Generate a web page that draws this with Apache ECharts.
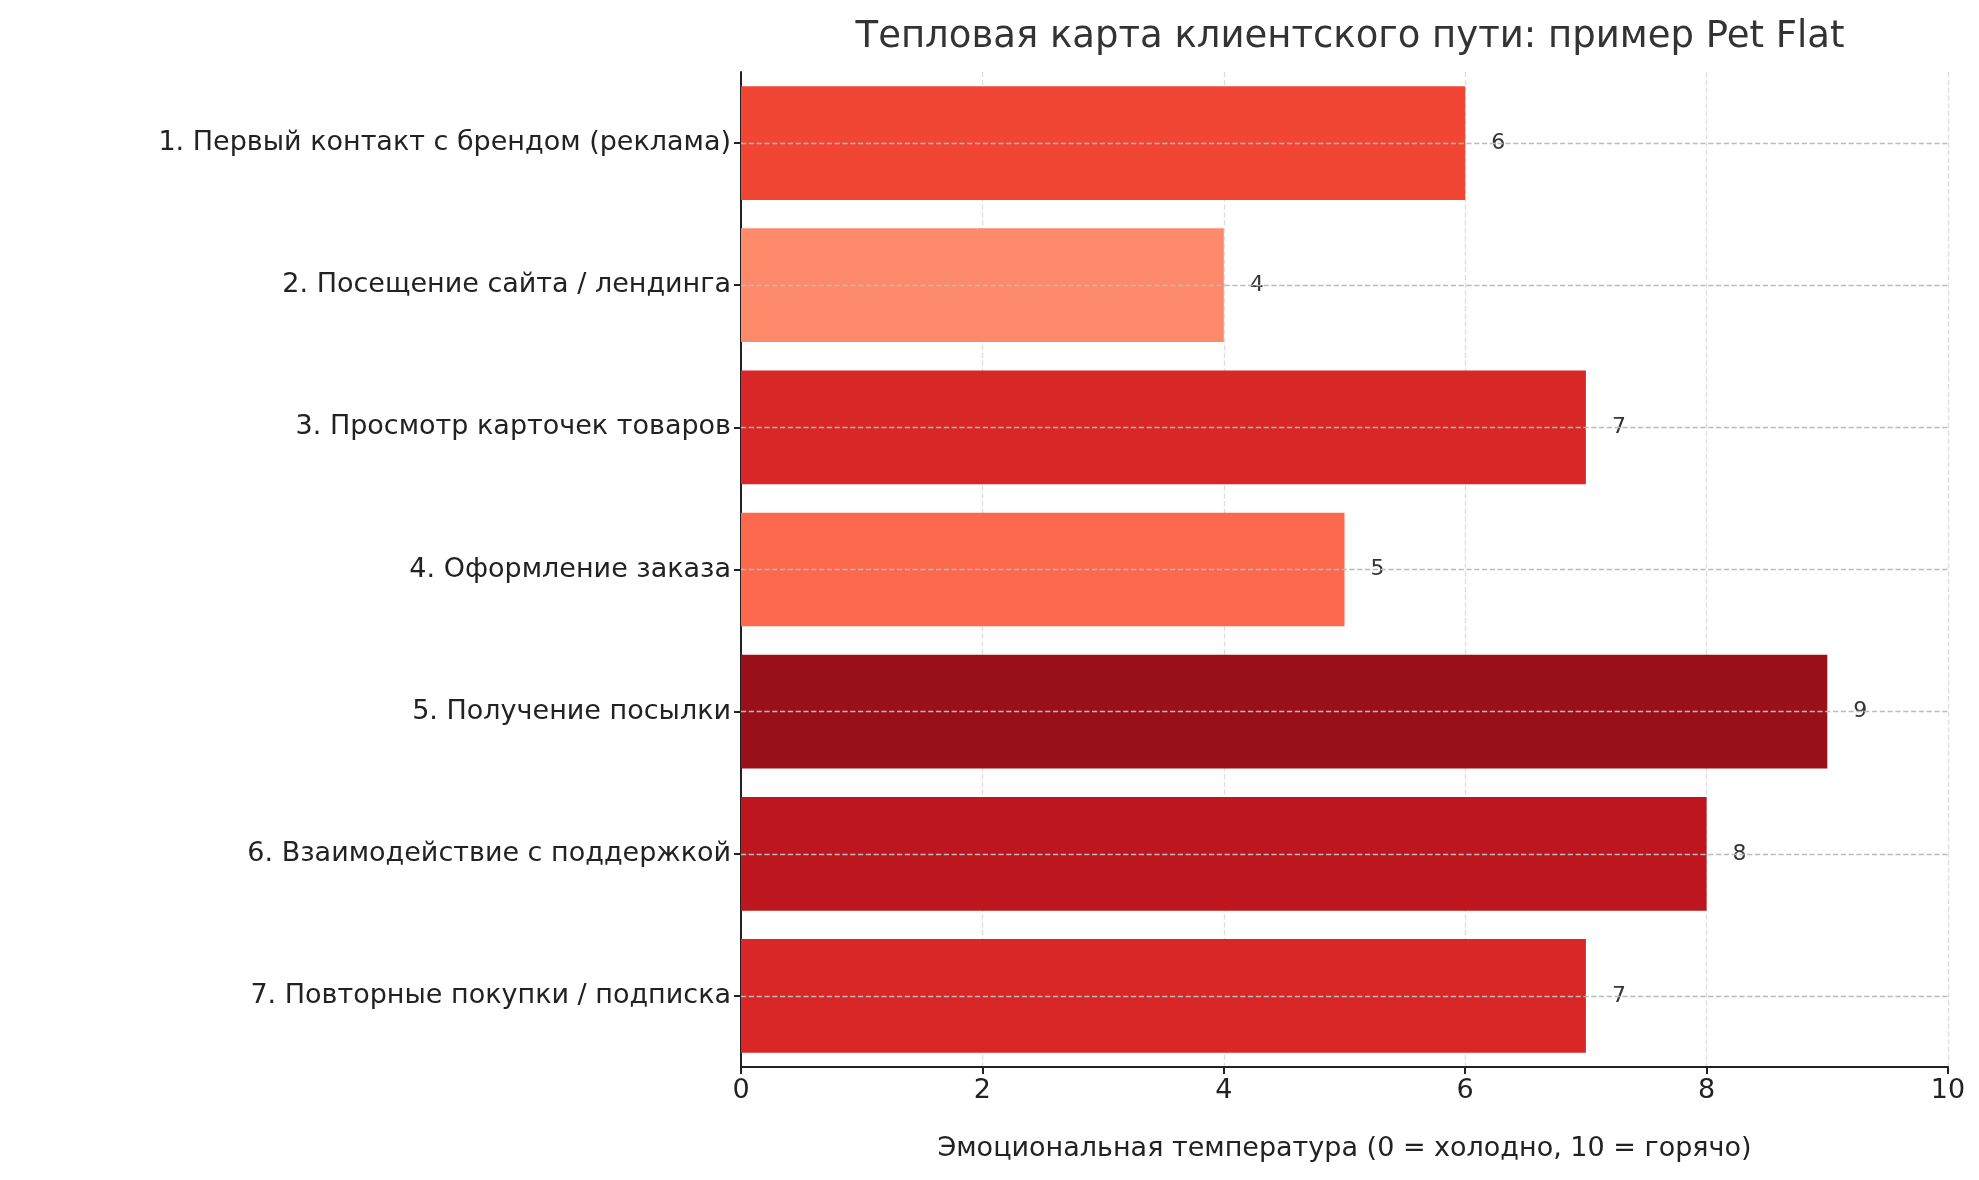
<!DOCTYPE html>
<html><head><meta charset="utf-8">
<script src="https://cdn.jsdelivr.net/npm/echarts@6/dist/echarts.min.js"></script>
<style>html,body{margin:0;padding:0;background:#fff}#c{width:1979px;height:1180px}</style>
</head><body><div id="c"></div>
<script>
const categories = ["1. Первый контакт с брендом (реклама)","2. Посещение сайта / лендинга","3. Просмотр карточек товаров","4. Оформление заказа","5. Получение посылки","6. Взаимодействие с поддержкой","7. Повторные покупки / подписка"];
const values = [6,4,7,5,9,8,7];
const colors = ["#f14633","#fc8a6b","#d92626","#fc694c","#99101a","#bd161f","#d92626"];
const font = "DejaVu Sans";
const chart = echarts.init(document.getElementById('c'));
chart.setOption({
  animation:false,
  title:{text:"Тепловая карта клиентского пути: пример Pet Flat",left:1345,top:14,textAlign:'center',
    textStyle:{fontFamily:font,fontSize:37,fontWeight:'normal',color:'#333'}},
  grid:{left:741,right:31,top:72,bottom:113},
  xAxis:{type:'value',min:0,max:10,interval:2,
    name:"Эмоциональная температура (0 = холодно, 10 = горячо)",nameLocation:'middle',nameGap:68,
    nameTextStyle:{fontFamily:font,fontSize:27,color:'#222'},
    axisLine:{show:true,lineStyle:{color:'#222',width:2}},
    axisTick:{show:true,length:7,lineStyle:{color:'#222',width:2}},
    axisLabel:{fontFamily:font,fontSize:27,color:'#222',margin:10},
    splitLine:{show:true,lineStyle:{type:'dashed',color:'#ddd',width:1.3}}},
  yAxis:{type:'category',data:categories,inverse:true,
    axisLine:{show:true,lineStyle:{color:'#222',width:2}},
    axisTick:{show:true,alignWithLabel:true,length:7,lineStyle:{color:'#222',width:2}},
    axisLabel:{fontFamily:font,fontSize:27,color:'#222',margin:10},
    splitLine:{show:false}},
  series:[{type:'bar',data:values.map((v,i)=>({value:v,itemStyle:{color:colors[i]}})),
    barCategoryGap:'20%',
    label:{show:true,position:'right',distance:26,fontFamily:font,fontSize:22,color:'#333'},
    markLine:{silent:true,symbol:'none',label:{show:false},
      lineStyle:{type:'dashed',color:'#bbb',width:1.3},
      data:categories.map(c=>[{xAxis:0,yAxis:c},{xAxis:10,yAxis:c}])},
    z:2}]
});
</script></body></html>
